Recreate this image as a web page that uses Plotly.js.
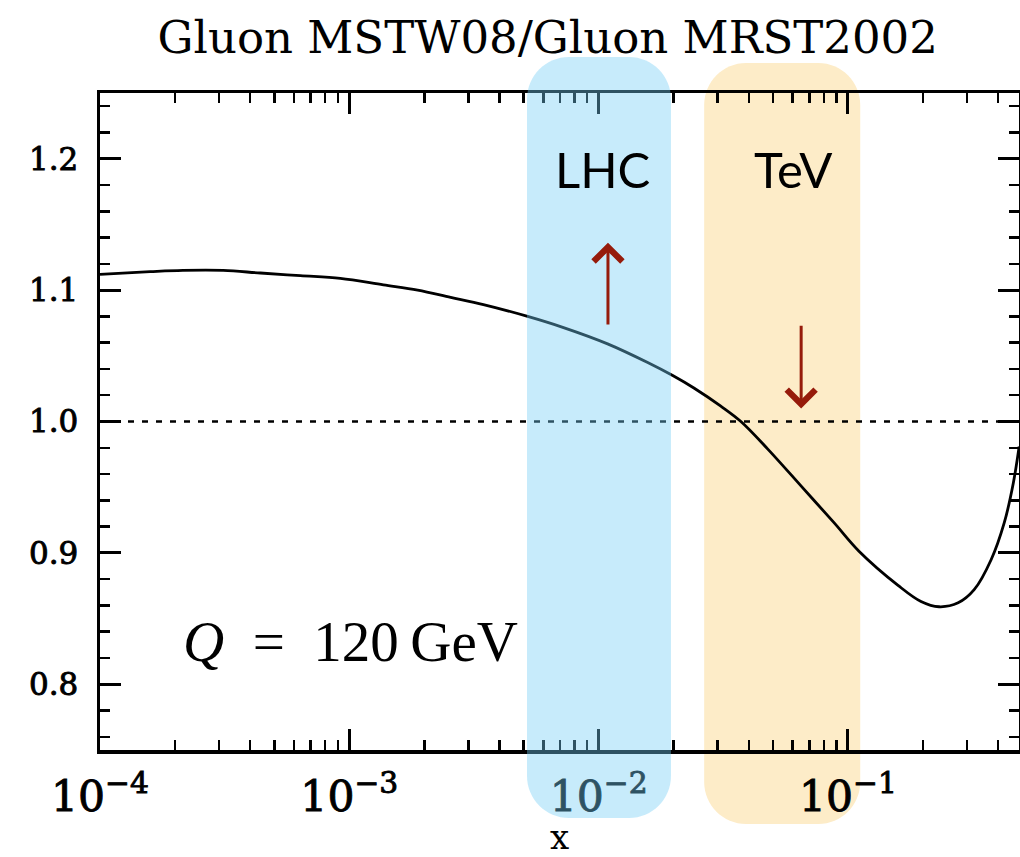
<!DOCTYPE html>
<html>
<head>
<meta charset="utf-8">
<script src="https://cdn.plot.ly/plotly-3.0.1.min.js"></script>
<style>
  html, body { margin: 0; padding: 0; background: #fff; }
  #chart { width: 1020px; height: 857px; }
  /* slightly heavier tick numerals */
  #chart .xtick text, #chart .ytick text { stroke: black; stroke-width: 0.9px; }
</style>
</head>
<body>
<div id="chart"></div>
<script>
// Gluon ratio MSTW08 / MRST2002 at Q = 120 GeV
const xValues = [1.0e-4, 1.59e-4, 2.15e-4, 3.12e-4, 4.40e-4, 6.36e-4, 9.20e-4, 1.37e-3,
  1.88e-3, 2.55e-3, 3.45e-3, 5.19e-3, 7.23e-3, 0.01086, 0.01573, 0.01982, 0.0241, 0.0309,
  0.0372, 0.0477, 0.0648, 0.0879, 0.1107, 0.1588, 0.1963, 0.2318, 0.2766, 0.3208, 0.3755,
  0.4236, 0.4603, 0.486];
const ratioValues = [1.112, 1.114, 1.115, 1.115, 1.113, 1.111, 1.109, 1.104,
  1.100, 1.0945, 1.089, 1.080, 1.0715, 1.0591, 1.0449, 1.035, 1.0255, 1.0117,
  1.000, 0.979, 0.951, 0.923, 0.9013, 0.8753, 0.863, 0.859, 0.862, 0.872, 0.895,
  0.923, 0.953, 0.981];

// unit reference line
const referenceX = [1e-4, 0.5];
const referenceY = [1, 1];

// x ranges of the collider bands
const lhcRange = [0.00516, 0.0195];
const tevRange = [0.0265, 0.112];
const bandLabels = ['LHC', 'TeV'];

// direction arrows: x position, tail and head
const arrowX = [0.0109, 0.0649];
const arrowFrom = [1.0726, 1.0741];
const arrowTo = [1.1361, 1.0099];

const W = 1020, H = 857;
const margin = {l: 100, r: 1, t: 93, b: 107, pad: 0};
const plotW = W - margin.l - margin.r;
const plotH = H - margin.t - margin.b;
const xRange = [-4, -0.314];
const yRange = [0.75, 1.25];

function xPaper(v) {
  return (Math.log10(v) - xRange[0]) / (xRange[1] - xRange[0]);
}
function pxX(px) { return (px - margin.l) / plotW; }
function pxY(py) { return (H - margin.b - py) / plotH; }

// rounded rectangle in paper coordinates, corner radius in pixels
function roundedBand(x0, x1, y0, y1, rpx) {
  const rx = rpx / plotW, ry = rpx / plotH, k = 0.5523;
  const f = v => v.toFixed(5);
  return 'M' + f(x0 + rx) + ',' + f(y1) +
    ' L' + f(x1 - rx) + ',' + f(y1) +
    ' C' + f(x1 - rx + k * rx) + ',' + f(y1) + ' ' + f(x1) + ',' + f(y1 - ry + k * ry) + ' ' + f(x1) + ',' + f(y1 - ry) +
    ' L' + f(x1) + ',' + f(y0 + ry) +
    ' C' + f(x1) + ',' + f(y0 + ry - k * ry) + ' ' + f(x1 - rx + k * rx) + ',' + f(y0) + ' ' + f(x1 - rx) + ',' + f(y0) +
    ' L' + f(x0 + rx) + ',' + f(y0) +
    ' C' + f(x0 + rx - k * rx) + ',' + f(y0) + ' ' + f(x0) + ',' + f(y0 + ry - k * ry) + ' ' + f(x0) + ',' + f(y0 + ry) +
    ' L' + f(x0) + ',' + f(y1 - ry) +
    ' C' + f(x0) + ',' + f(y1 - ry + k * ry) + ' ' + f(x0 + rx - k * rx) + ',' + f(y1) + ' ' + f(x0 + rx) + ',' + f(y1) +
    ' Z';
}

const serif = 'DejaVu Serif, serif';

const traces = [
  {
    x: referenceX, y: referenceY, type: 'scatter', mode: 'lines',
    line: {color: 'black', width: 2.5, dash: '6px,8px'},
    hoverinfo: 'skip', showlegend: false
  },
  {
    x: xValues, y: ratioValues, type: 'scatter', mode: 'lines',
    line: {color: 'black', width: 2.8, shape: 'spline', smoothing: 1},
    showlegend: false
  }
];

const shapes = [
  {
    type: 'path', xref: 'paper', yref: 'paper', layer: 'below',
    path: roundedBand(xPaper(tevRange[0]), xPaper(tevRange[1]), pxY(824), pxY(63), 42),
    fillcolor: 'rgb(253,236,200)', line: {width: 0}
  },
  {
    type: 'path', xref: 'paper', yref: 'paper', layer: 'above',
    path: roundedBand(xPaper(lhcRange[0]), xPaper(lhcRange[1]), pxY(818), pxY(57), 42),
    fillcolor: 'rgb(115,205,245)', opacity: 0.4, line: {width: 0}
  }
];

const annotations = [
  {
    text: bandLabels[0], xref: 'paper', yref: 'paper', x: pxX(602), y: pxY(169),
    xanchor: 'center', yanchor: 'middle', showarrow: false,
    font: {family: 'Lato, sans-serif', size: 49, color: 'black'}
  },
  {
    text: bandLabels[1], xref: 'paper', yref: 'paper', x: pxX(793), y: pxY(169),
    xanchor: 'center', yanchor: 'middle', showarrow: false,
    font: {family: 'Lato, sans-serif', size: 49, color: 'black'}
  },
  {
    text: '<i>Q</i>\u2002=\u2002120\u2009GeV', xref: 'paper', yref: 'paper',
    x: pxX(350), y: pxY(641), xanchor: 'center', yanchor: 'middle', showarrow: false,
    font: {family: 'Liberation Serif, serif', size: 57, color: 'black'}
  }
];

for (let i = 0; i < arrowX.length; i++) {
  annotations.push({
    text: '', xref: 'x', yref: 'y', axref: 'x', ayref: 'y',
    x: Math.log10(arrowX[i]), y: arrowTo[i],
    ax: Math.log10(arrowX[i]), ay: arrowFrom[i],
    showarrow: true, arrowhead: 4, arrowsize: 1.85, arrowwidth: 3,
    arrowcolor: '#961b0b', standoff: 0, startstandoff: 0
  });
}

const layout = {
  width: W, height: H, margin: margin,
  paper_bgcolor: 'white', plot_bgcolor: 'rgba(0,0,0,0)',
  showlegend: false,
  title: {
    text: 'Gluon MSTW08/Gluon MRST2002',
    font: {family: serif, size: 45, color: 'black'},
    xref: 'container', yref: 'container', x: 0.537, y: 0.957,
    xanchor: 'center', yanchor: 'middle'
  },
  xaxis: {
    type: 'log', range: xRange, dtick: 1, exponentformat: 'power',
    showline: true, linewidth: 3.5, linecolor: 'black', mirror: 'ticks',
    ticks: 'inside', ticklen: 21, tickwidth: 3, tickcolor: 'black',
    minor: {ticks: 'inside', ticklen: 10, tickwidth: 2.5, tickcolor: 'black', dtick: 'D1', showgrid: false},
    showgrid: false, zeroline: false,
    tickfont: {family: serif, size: 34, color: 'black'},
    ticklabelstandoff: 8,
    title: {text: 'x', font: {family: serif, size: 34, color: 'black'}, standoff: 20}
  },
  yaxis: {
    range: yRange, dtick: 0.1, tickformat: '.1f',
    showline: true, linewidth: 3.5, linecolor: 'black', mirror: 'ticks',
    ticks: 'inside', ticklen: 21, tickwidth: 3, tickcolor: 'black',
    minor: {ticks: 'inside', ticklen: 10, tickwidth: 2.5, tickcolor: 'black', dtick: 0.02, showgrid: false},
    showgrid: false, zeroline: false,
    tickfont: {family: serif, size: 31, color: 'black'},
    ticklabelstandoff: 12
  },
  shapes: shapes,
  annotations: annotations
};

Plotly.newPlot('chart', traces, layout, {staticPlot: true, displayModeBar: false});
</script>
</body>
</html>
